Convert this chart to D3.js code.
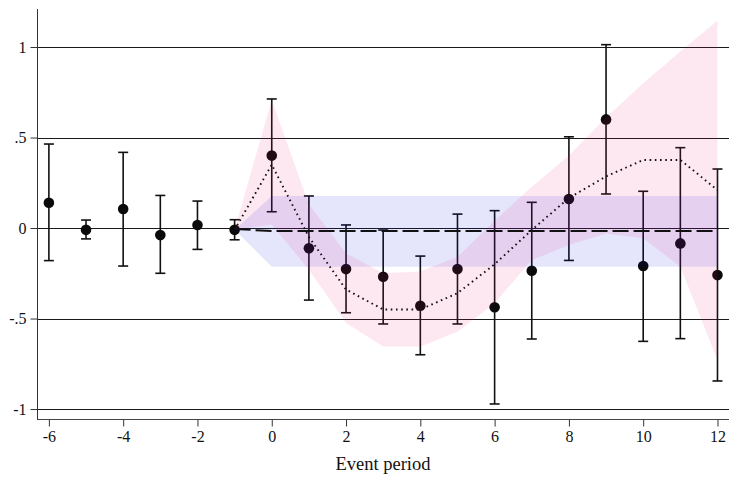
<!DOCTYPE html>
<html><head><meta charset="utf-8">
<script src="https://cdn.jsdelivr.net/npm/d3@7"></script>
<style>body{margin:0;background:#fff}svg{display:block}text{font-family:"Liberation Serif","Times New Roman",serif;fill:#111}</style>
</head><body><svg id="c" width="729" height="479"></svg>
<script>
const periods = [-6,-5,-4,-3,-2,-1,0,1,2,3,4,5,6,7,8,9,10,11,12];
const estimates = [0.14,-0.01,0.105,-0.039,0.017,-0.01,0.40,-0.112,-0.227,-0.269,-0.429,-0.227,-0.438,-0.236,0.16,0.60,-0.21,-0.085,-0.26];
const ciLower = [-0.18,-0.06,-0.21,-0.25,-0.118,-0.065,0.09,-0.398,-0.468,-0.53,-0.70,-0.53,-0.972,-0.613,-0.179,0.188,-0.626,-0.611,-0.845];
const ciUpper = [0.464,0.044,0.418,0.18,0.149,0.046,0.713,0.177,0.017,-0.011,-0.155,0.077,0.096,0.142,0.504,1.013,0.203,0.444,0.326];

const trendPeriods = [-1,0,1,2,3,4,5,6,7,8,9,10,11,12];
const trendFit   = [-0.01,0.35,-0.05,-0.34,-0.45,-0.45,-0.36,-0.2,-0.011,0.166,0.285,0.376,0.376,0.21];
const trendLower = [-0.01,0.02,-0.23,-0.525,-0.655,-0.655,-0.573,-0.416,-0.177,-0.094,-0.03,-0.057,-0.214,-0.73];
const trendUpper = [-0.01,0.707,0.13,-0.14,-0.25,-0.24,-0.16,0.04,0.228,0.40,0.61,0.80,0.975,1.145];

const flatFit   = [-0.005,-0.017,-0.017,-0.017,-0.017,-0.017,-0.017,-0.017,-0.017,-0.017,-0.017,-0.017,-0.017,-0.017];
const flatLower = [-0.01,-0.214,-0.214,-0.214,-0.214,-0.214,-0.214,-0.214,-0.214,-0.214,-0.214,-0.214,-0.214,-0.214];
const flatUpper = [-0.01,0.177,0.177,0.177,0.177,0.177,0.177,0.177,0.177,0.177,0.177,0.177,0.177,0.177];

const yTicks = [1,0.5,0,-0.5,-1];
const yTickLabels = ["1",".5","0","-.5","-1"];
const xTicks = [-6,-4,-2,0,2,4,6,8,10,12];
const xTitle = "Event period";

const svg = d3.select("#c");
const x = d3.scaleLinear().domain([-6.32,12.31]).range([37,729]);
const y = d3.scaleLinear().domain([-1.055,1.21]).range([419,9]);
const serif = "'Liberation Serif', 'Times New Roman', serif";

// gridlines
svg.append("g").selectAll("line").data(yTicks).join("line")
  .attr("x1",37).attr("x2",729).attr("y1",d=>Math.round(y(d))+0.5).attr("y2",d=>Math.round(y(d))+0.5)
  .attr("stroke","#1a1a1a").attr("stroke-width",1.1);

// y axis
const ya = svg.append("g").attr("transform","translate(37.5,0)")
  .call(d3.axisLeft(y).tickValues(yTicks).tickFormat((d,i)=>yTickLabels[i]).tickSize(7).tickPadding(4));
ya.attr("font-family",serif);
ya.select(".domain").attr("d","M0,9V419").attr("stroke","#333");
ya.selectAll(".tick line").attr("stroke","#333");
ya.selectAll("text").style("font-size","16px").style("font-family",serif).attr("fill","#111");

// x axis
const xa = svg.append("g").attr("transform","translate(0,419.5)")
  .call(d3.axisBottom(x).tickValues(xTicks).tickFormat(d3.format("d")).tickSize(7).tickPadding(4));
xa.attr("font-family",serif);
xa.select(".domain").attr("d","M37,0H729").attr("stroke","#444");
xa.selectAll(".tick line").attr("stroke","#333");
xa.selectAll("text").style("font-size","16px").style("font-family",serif).attr("fill","#111")
  .text(function(d){return d<0?"-"+Math.abs(d):d;});

svg.append("text").attr("x",383).attr("y",470).attr("text-anchor","middle")
  .style("font-size","18.5px").style("font-family",serif).text(xTitle);

// error bars
const eb = svg.append("g").attr("stroke","#111").attr("stroke-width",1.6);
periods.forEach((p,i)=>{
  const cx = x(p);
  eb.append("line").attr("x1",cx).attr("x2",cx).attr("y1",y(ciLower[i])).attr("y2",y(ciUpper[i]));
  eb.append("line").attr("x1",cx-5).attr("x2",cx+5).attr("y1",y(ciLower[i])).attr("y2",y(ciLower[i]));
  eb.append("line").attr("x1",cx-5).attr("x2",cx+5).attr("y1",y(ciUpper[i])).attr("y2",y(ciUpper[i]));
});
svg.append("g").selectAll("circle").data(periods).join("circle")
  .attr("cx",d=>x(d)).attr("cy",(d,i)=>y(estimates[i])).attr("r",5.3).attr("fill","#0a0a0a");

// bands
const area = (lo,hi)=>d3.area().x((d,i)=>x(trendPeriods[i])).y0((d,i)=>y(lo[i])).y1((d,i)=>y(hi[i]));
svg.append("path").datum(trendPeriods).attr("d",area(flatLower,flatUpper))
  .attr("fill","rgb(0,0,225)").attr("fill-opacity",0.1);
svg.append("path").datum(trendPeriods).attr("d",area(trendLower,trendUpper))
  .attr("fill","rgb(235,25,125)").attr("fill-opacity",0.1);

const line = arr=>d3.line().x((d,i)=>x(trendPeriods[i])).y((d,i)=>y(arr[i]));
svg.append("path").datum(trendPeriods).attr("d",line(trendFit))
  .attr("fill","none").attr("stroke","#111").attr("stroke-width",1.9).attr("stroke-dasharray","1.6,3.6");
svg.append("path").datum(trendPeriods).attr("d",line(flatFit))
  .attr("fill","none").attr("stroke","#111").attr("stroke-width",2).attr("stroke-dasharray","16,5");
</script></body></html>
